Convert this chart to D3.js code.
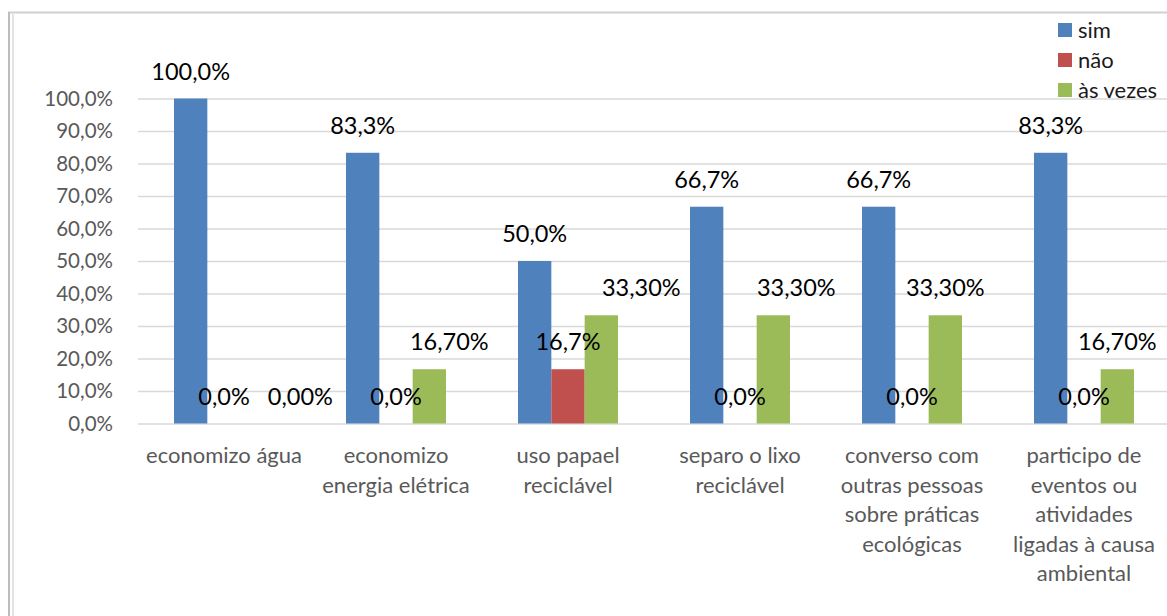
<!DOCTYPE html>
<html>
<head>
<meta charset="utf-8">
<script src="https://cdn.jsdelivr.net/npm/d3@7"></script>
<style>
  html, body { margin: 0; padding: 0; background: #fff; }
  svg { display: block; font-family: Lato, "Open Sans", sans-serif; }
</style>
</head>
<body>
<svg id="chart" width="1167" height="616"></svg>
<script>
// Survey answers per practice, in percent
const categories = [
  "economizo água",
  "economizo\nenergia elétrica",
  "uso papael\nreciclável",
  "separo o lixo\nreciclável",
  "converso com\noutras pessoas\nsobre práticas\necológicas",
  "participo de\neventos ou\natividades\nligadas à causa\nambiental"
];
const seriesNames = ["sim", "não", "às vezes"];
const simValues = [100.0, 83.3, 50.0, 66.7, 66.7, 83.3];
const naoValues = [0.0, 0.0, 16.7, 0.0, 0.0, 0.0];
const asVezesValues = [0.0, 16.7, 33.3, 33.3, 33.3, 16.7];
const labelDecimals = [1, 1, 2];
const yTicks = [0, 10, 20, 30, 40, 50, 60, 70, 80, 90, 100];

// Layout
const colors = ["#4F81BD", "#C0504D", "#9BBB59"];
const plot = { left: 138, right: 1170, top: 98.5, bottom: 423.5 };
// horizontal nudges of the "às vezes" value labels so they clear their neighbours
const asVezesLabelShift = [43, 20, 40, 23, 0, 0];

const seriesValues = [simValues, naoValues, asVezesValues];
const svg = d3.select("#chart");

// frame
svg.append("line").attr("x1", 8).attr("x2", 1167).attr("y1", 12.5).attr("y2", 12.5)
  .attr("stroke", "#D0D0D0").attr("stroke-width", 2);
svg.append("line").attr("x1", 9).attr("x2", 9).attr("y1", 12).attr("y2", 616)
  .attr("stroke", "#BDBDBD").attr("stroke-width", 2);
svg.append("line").attr("x1", 13).attr("x2", 13).attr("y1", 14).attr("y2", 616)
  .attr("stroke", "#E3E3E3").attr("stroke-width", 2);

const x0 = d3.scaleBand().domain(d3.range(categories.length))
  .range([plot.left, plot.right]).paddingInner(0).paddingOuter(0);
const x1 = d3.scaleBand().domain(d3.range(seriesNames.length))
  .range([36, x0.bandwidth() - 36]);
const y = d3.scaleLinear().domain([0, 100]).range([plot.bottom, plot.top]);

const fmt = (v, d) => v.toFixed(d).replace(".", ",") + "%";

// gridlines + y axis labels
const yAxis = d3.axisLeft(y).tickValues(yTicks)
  .tickSize(-(plot.right - plot.left)).tickPadding(25)
  .tickFormat(d => fmt(d, 1));
const gy = svg.append("g").attr("transform", `translate(${plot.left},0)`).call(yAxis);
gy.select(".domain").remove();
gy.selectAll(".tick line").attr("stroke", "#D9D9D9").attr("stroke-width", 1.3);
gy.selectAll(".tick text").attr("fill", "#595959").attr("font-size", 20.5)
  .attr("font-family", "Lato, sans-serif");

// bars
const groups = svg.append("g").selectAll("g")
  .data(categories).join("g")
  .attr("transform", (d, i) => `translate(${x0(i)},0)`);

groups.selectAll("rect")
  .data((d, i) => seriesValues.map((s, k) => ({ k, v: s[i] })))
  .join("rect")
  .attr("x", d => x1(d.k))
  .attr("width", x1.bandwidth())
  .attr("y", d => y(d.v))
  .attr("height", d => y(0) - y(d.v))
  .attr("fill", d => colors[d.k]);

// value labels
groups.each(function (c, i) {
  const g = d3.select(this);
  seriesValues.forEach((s, k) => {
    const shift = k === 2 ? asVezesLabelShift[i] : 0;
    g.append("text")
      .attr("x", x1(k) + x1.bandwidth() / 2 + shift)
      .attr("y", y(s[i]) - 19)
      .attr("text-anchor", "middle")
      .attr("font-size", 23.5)
      .attr("fill", "#000")
      .text(fmt(s[i], labelDecimals[k]));
  });
});

// category labels
groups.append("text")
  .attr("text-anchor", "middle")
  .attr("fill", "#595959")
  .attr("font-size", 22)
  .each(function (c) {
    const t = d3.select(this);
    c.split("\n").forEach((line, j) => {
      t.append("tspan").attr("x", x0.bandwidth() / 2).attr("y", 463 + j * 29.6).text(line);
    });
  });

// legend
const legend = svg.append("g").attr("transform", "translate(1058,30)");
seriesNames.forEach((name, k) => {
  const row = legend.append("g").attr("transform", `translate(0,${k * 30})`);
  row.append("rect").attr("x", 0).attr("y", -7).attr("width", 14).attr("height", 14)
    .attr("fill", colors[k]);
  row.append("text").attr("x", 20).attr("y", 7.5).attr("font-size", 22)
    .attr("fill", "#1a1a1a").text(name);
});
</script>
</body>
</html>
